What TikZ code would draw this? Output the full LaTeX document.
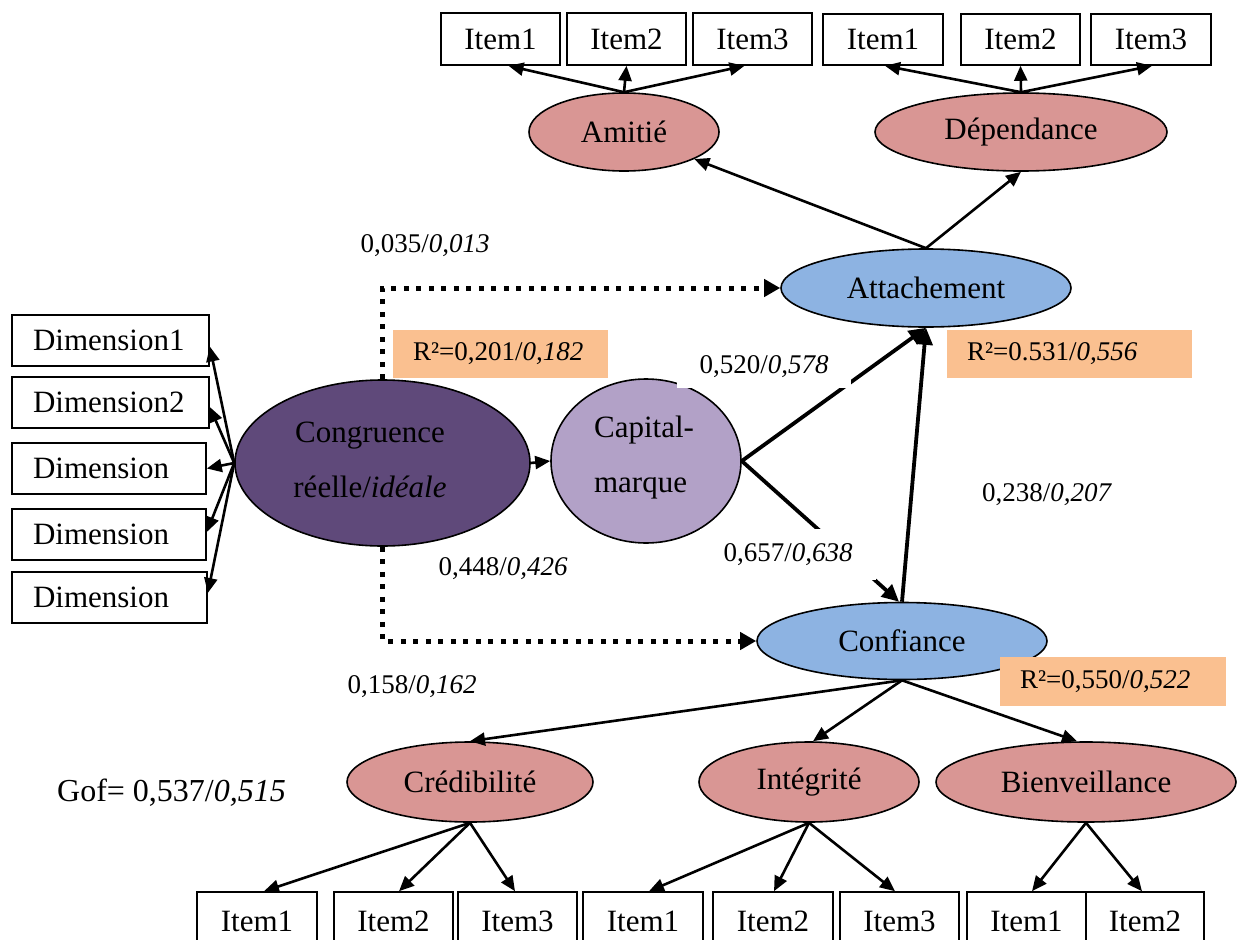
\documentclass[tikz,border=0pt]{standalone}
\usepackage{fontspec}
\setmainfont{Liberation Serif}
\usetikzlibrary{shapes.geometric,arrows.meta}
\definecolor{pinkf}{HTML}{D99694}
\definecolor{bluef}{HTML}{8DB3E2}
\definecolor{purpf}{HTML}{5F497A}
\definecolor{lavf}{HTML}{B2A1C7}
\definecolor{orf}{HTML}{FAC090}
\begin{document}
\begin{tikzpicture}[x=1pt,y=-1pt,
  bigfont/.style={font=\fontsize{31}{37}\selectfont},
  lblfont/.style={font=\fontsize{27}{32}\selectfont},
  itembox/.style={draw, line width=1.6pt, fill=white, inner sep=0pt, bigfont},
  dimbox/.style={draw, line width=1.6pt, fill=white, inner ysep=0pt, inner xsep=21pt, align=left, bigfont},
  latent/.style={ellipse, draw, line width=1.6pt, inner sep=0pt, bigfont},
  rbox/.style={fill=orf, inner ysep=0pt, inner xsep=20pt, align=left, lblfont},
  wbox/.style={fill=white, inner sep=0pt, lblfont},
  lbl/.style={inner sep=0pt, lblfont},
  arr/.style={line width=2.6pt, -{Triangle[length=15pt,width=13pt]}},
  thickarr/.style={line width=3.8pt, -{Triangle[length=17pt,width=16pt]}},
  dotarr/.style={line width=5pt, dash pattern=on 5pt off 7.5pt, -{Triangle[length=16pt,width=17pt]}}
]
\useasboundingbox (0,0) rectangle (1238,939);
\clip (0,0) rectangle (1238,939);

% top item boxes
\node[itembox, minimum width=119, minimum height=52] (aI1) at (500.5,39) {Item1};
\node[itembox, minimum width=119, minimum height=52] (aI2) at (626.5,39) {Item2};
\node[itembox, minimum width=119, minimum height=52] (aI3) at (752.5,39) {Item3};
\node[itembox, minimum width=120, minimum height=51] (dI1) at (883,39.5) {Item1};
\node[itembox, minimum width=119, minimum height=51] (dI2) at (1020.5,39.5) {Item2};
\node[itembox, minimum width=120, minimum height=51] (dI3) at (1151,39.5) {Item3};

% dimension boxes
\node[dimbox, text width=155, minimum height=51] (dim1) at (110.5,340.5) {Dimension1};
\node[dimbox, text width=155, minimum height=51] (dim2) at (110.5,402.5) {Dimension2};
\node[dimbox, text width=152, minimum height=51] (dim3) at (109,468.5) {Dimension};
\node[dimbox, text width=152, minimum height=51] (dim4) at (109,534.5) {Dimension};
\node[dimbox, text width=153, minimum height=51] (dim5) at (109.5,597.5) {Dimension};

% bottom item boxes
\node[itembox, minimum width=120, minimum height=58] (cI1) at (257,921) {Item1};
\node[itembox, minimum width=119, minimum height=58] (cI2) at (393.5,921) {Item2};
\node[itembox, minimum width=119, minimum height=58] (cI3) at (517.5,921) {Item3};
\node[itembox, minimum width=120, minimum height=58] (iI1) at (643,921) {Item1};
\node[itembox, minimum width=120, minimum height=58] (iI2) at (773,921) {Item2};
\node[itembox, minimum width=119, minimum height=58] (iI3) at (899.5,921) {Item3};
\node[itembox, minimum width=119, minimum height=58] (bI1) at (1026.5,921) {Item1};
\node[itembox, minimum width=118, minimum height=58] (bI2) at (1145,921) {Item2};

% latent variables
\node[latent, fill=pinkf, minimum width=190, minimum height=78] (amitie) at (624,132) {Amitié};
\node[latent, fill=pinkf, minimum width=292, minimum height=78] (dep) at (1021,132) {Dépendance};
\node[latent, fill=bluef, minimum width=290, minimum height=78] (attach) at (926,288) {Attachement};
\node[latent, fill=bluef, minimum width=290, minimum height=77] (conf) at (902,641) {Confiance};
\node[latent, fill=purpf, minimum width=295, minimum height=166] (cong) at (382.5,463) {};
\node[align=center, inner sep=0pt, font=\fontsize{31}{55}\selectfont] (congtxt) at (370,460) {Congruence\\réelle/\textit{idéale}};
\node[latent, fill=lavf, minimum width=190, minimum height=164] (cap) at (646,461) {};
\node[align=left, inner sep=0pt, font=\fontsize{31}{55}\selectfont] (captxt) at (644,458) {Capital-\\marque};
\node[latent, fill=pinkf, minimum width=246, minimum height=80] (cred) at (470,782) {Crédibilité};
\node[latent, fill=pinkf, minimum width=220, minimum height=80] (integ) at (809,782) {Intégrité};
\node[latent, fill=pinkf, minimum width=300, minimum height=80] (bien) at (1086,782) {Bienveillance};

% measurement arrows top
\draw[arr] (amitie.north) -- ([xshift=8]aI1.south);
\draw[arr] (amitie.north) -- (aI2.south);
\draw[arr] (amitie.north) -- ([xshift=-8]aI3.south);
\draw[arr] (dep.north) -- ([xshift=2]dI1.south);
\draw[arr] (dep.north) -- (dI2.south);
\draw[arr] (dep.north) -- ([xshift=1]dI3.south);
\draw[arr] (attach.north) -- (amitie);
\draw[arr] (attach.north) -- (dep.south);

% dimensions
\draw[arr] (cong.west) -- ([yshift=-6]dim1.east);
\draw[arr] (cong.west) -- ([yshift=-4.5]dim2.east);
\draw[arr] (cong.west) -- (dim3.east);
\draw[arr] (cong.west) -- ([yshift=2.5]dim4.east);
\draw[arr] (cong.west) -- ([yshift=4.5]dim5.east);

% structural
\draw[arr] (cong.east) -- (cap.west);
\draw[thickarr] (cap.east) -- (attach.south);
\draw[thickarr] (cap.east) -- ([xshift=-3]conf.north);
\draw[thickarr] (conf.north) -- (attach.south);
\draw[dotarr] (cong.north) |- (attach.west);
\draw[dotarr] (cong.south) |- (conf.west);

% bottom measurement
\draw[arr] (conf.south) -- (cred.north);
\draw[arr] (conf.south) -- ([xshift=4]integ.north);
\draw[arr] (conf.south) -- ([xshift=-9]bien.north);
\draw[arr] (cred.south) -- ([xshift=7]cI1.north);
\draw[arr] (cred.south) -- ([xshift=5.5]cI2.north);
\draw[arr] (cred.south) -- ([xshift=-2.5]cI3.north);
\draw[arr] (integ.south) -- ([xshift=6]iI1.north);
\draw[arr] (integ.south) -- ([xshift=1]iI2.north);
\draw[arr] (integ.south) -- ([xshift=-4.5]iI3.north);
\draw[arr] (bien.south) -- ([xshift=5.5]bI1.north);
\draw[arr] (bien.south) -- ([xshift=-3]bI2.north);

% labels
\node[lbl] (l1) at (425,246) {0,035/\textit{0,013}};
\node[lbl] (l2) at (503,569) {0,448/\textit{0,426}};
\node[lbl] (l3) at (412,687) {0,158/\textit{0,162}};
\node[lbl] (l4) at (1047,495) {0,238/\textit{0,207}};
\node[wbox, minimum width=174, minimum height=42] (l5) at (764,367) {0,520/\textit{0,578}};
\node[wbox, minimum width=176, minimum height=51] (l6) at (788,554.5) {0,657/\textit{0,638}};
\node[rbox, text width=175, minimum height=48] (r1) at (500.5,354) {R²=0,201/\textit{0,182}};
\node[rbox, text width=205, minimum height=48] (r2) at (1069.5,354) {R²=0.531/\textit{0,556}};
\node[rbox, text width=186, minimum height=49] (r3) at (1113,681.5) {R²=0,550/\textit{0,522}};
\node[inner sep=0pt, font=\fontsize{32}{38}\selectfont] (gof) at (171.5,793) {Gof= 0,537/\textit{0,515}};
\end{tikzpicture}
\end{document}
